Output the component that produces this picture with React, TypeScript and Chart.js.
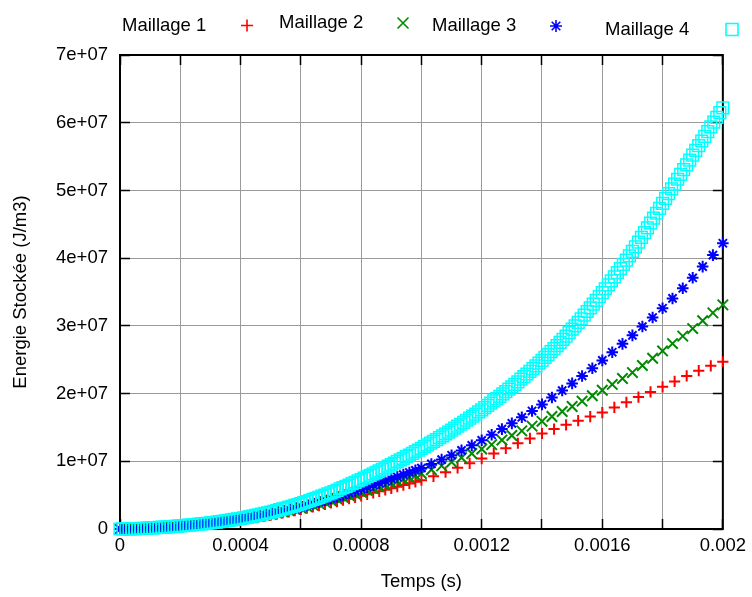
import React, { useEffect, useRef } from 'react';
import { Chart, registerables } from 'chart.js';

Chart.register(...registerables);

const FONT = "'Liberation Sans', Arial, Helvetica, sans-serif";

// ---- data (time in ms, energy in MJ/m3 = 1e6 J/m3) ----
const T_LOW_MS = [0, 0.02, 0.04, 0.06, 0.08, 0.1, 0.12, 0.14, 0.16, 0.18, 0.2, 0.22, 0.24, 0.26, 0.28, 0.3, 0.32, 0.34, 0.36, 0.38, 0.4, 0.42, 0.44, 0.46, 0.48, 0.5, 0.52, 0.54, 0.56, 0.58, 0.6, 0.62, 0.64, 0.66, 0.68, 0.7, 0.72, 0.74, 0.76, 0.78, 0.8, 0.82, 0.84, 0.86, 0.88, 0.9, 0.92, 0.94, 0.96, 0.98, 1.0];
const T_M1_HIGH_MS = [1.04, 1.08, 1.12, 1.16, 1.2, 1.24, 1.28, 1.32, 1.36, 1.4, 1.44, 1.48, 1.52, 1.56, 1.6, 1.64, 1.68, 1.72, 1.76, 1.8, 1.84, 1.88, 1.92, 1.96, 2.0];
const T_M23_HIGH_MS = [1.033, 1.067, 1.1, 1.133, 1.167, 1.2, 1.233, 1.267, 1.3, 1.333, 1.367, 1.4, 1.433, 1.467, 1.5, 1.533, 1.567, 1.6, 1.633, 1.667, 1.7, 1.733, 1.767, 1.8, 1.833, 1.867, 1.9, 1.933, 1.967, 2.0];
const T_M4_MS = [0, 0.01, 0.02, 0.03, 0.04, 0.05, 0.06, 0.07, 0.08, 0.09, 0.1, 0.11, 0.12, 0.13, 0.14, 0.15, 0.16, 0.17, 0.18, 0.19, 0.2, 0.21, 0.22, 0.23, 0.24, 0.25, 0.26, 0.27, 0.28, 0.29, 0.3, 0.31, 0.32, 0.33, 0.34, 0.35, 0.36, 0.37, 0.38, 0.39, 0.4, 0.41, 0.42, 0.43, 0.44, 0.45, 0.46, 0.47, 0.48, 0.49, 0.5, 0.51, 0.52, 0.53, 0.54, 0.55, 0.56, 0.57, 0.58, 0.59, 0.6, 0.61, 0.62, 0.63, 0.64, 0.65, 0.66, 0.67, 0.68, 0.69, 0.7, 0.71, 0.72, 0.73, 0.74, 0.75, 0.76, 0.77, 0.78, 0.79, 0.8, 0.81, 0.82, 0.83, 0.84, 0.85, 0.86, 0.87, 0.88, 0.89, 0.9, 0.91, 0.92, 0.93, 0.94, 0.95, 0.96, 0.97, 0.98, 0.99, 1.0,
  1.01, 1.02, 1.03, 1.04, 1.05, 1.06, 1.07, 1.08, 1.09, 1.1, 1.11, 1.12, 1.13, 1.14, 1.15, 1.16, 1.17, 1.18, 1.19, 1.2, 1.21, 1.22, 1.23, 1.24, 1.25, 1.26, 1.27, 1.28, 1.29, 1.3, 1.31, 1.32, 1.33, 1.34, 1.35, 1.36, 1.37, 1.38, 1.39, 1.4, 1.41, 1.42, 1.43, 1.44, 1.45, 1.46, 1.47, 1.48, 1.49, 1.5, 1.51, 1.52, 1.53, 1.54, 1.55, 1.56, 1.57, 1.58, 1.59, 1.6, 1.61, 1.62, 1.63, 1.64, 1.65, 1.66, 1.67, 1.68, 1.69, 1.7, 1.71, 1.72, 1.73, 1.74, 1.75, 1.76, 1.77, 1.78, 1.79, 1.8, 1.81, 1.82, 1.83, 1.84, 1.85, 1.86, 1.87, 1.88, 1.89, 1.9, 1.91, 1.92, 1.93, 1.94, 1.95, 1.96, 1.97, 1.98, 1.99, 2.0];

const E_M1 = [0, 0.01, 0.03, 0.05, 0.08, 0.12, 0.17, 0.23, 0.3, 0.37, 0.45, 0.52, 0.6, 0.68, 0.76, 0.85, 0.95, 1.05, 1.16, 1.28, 1.4, 1.52, 1.65, 1.78, 1.91, 2.05, 2.21, 2.37, 2.54, 2.72, 2.9, 3.08, 3.27, 3.46, 3.65, 3.85, 4.05, 4.26, 4.47, 4.68, 4.9, 5.12, 5.34, 5.56, 5.78, 6.0, 6.24, 6.48, 6.72, 6.96, 7.2,
  7.78, 8.39, 9.03, 9.7, 10.4, 11.15, 11.92, 12.66, 13.38, 14.1, 14.75, 15.39, 16.0, 16.6, 17.2, 17.96, 18.72, 19.48, 20.24, 21.0, 21.8, 22.6, 23.38, 24.1, 24.7];
const E_M2 = [0, 0.01, 0.03, 0.05, 0.08, 0.12, 0.17, 0.23, 0.3, 0.37, 0.45, 0.53, 0.61, 0.7, 0.79, 0.88, 0.99, 1.1, 1.21, 1.33, 1.45, 1.59, 1.73, 1.88, 2.04, 2.2, 2.37, 2.54, 2.72, 2.91, 3.1, 3.31, 3.52, 3.74, 3.97, 4.2, 4.44, 4.68, 4.93, 5.19, 5.45, 5.71, 5.98, 6.25, 6.52, 6.8, 7.08, 7.36, 7.64, 7.92, 8.2,
  8.75, 9.32, 9.9, 10.52, 11.15, 11.8, 12.46, 13.13, 13.8, 14.49, 15.19, 15.9, 16.62, 17.35, 18.1, 18.88, 19.68, 20.5, 21.35, 22.22, 23.1, 24.15, 25.22, 26.3, 27.38, 28.48, 29.6, 30.75, 31.92, 33.1];
const E_M3 = [0, 0.01, 0.03, 0.05, 0.08, 0.12, 0.17, 0.23, 0.3, 0.37, 0.45, 0.53, 0.62, 0.71, 0.8, 0.9, 1.01, 1.13, 1.25, 1.37, 1.5, 1.65, 1.8, 1.96, 2.13, 2.3, 2.49, 2.68, 2.88, 3.09, 3.3, 3.53, 3.76, 4.0, 4.25, 4.5, 4.77, 5.04, 5.32, 5.61, 5.9, 6.19, 6.49, 6.79, 7.09, 7.4, 7.71, 8.03, 8.35, 8.67, 9.0,
  9.61, 10.25, 10.9, 11.61, 12.35, 13.1, 13.92, 14.75, 15.6, 16.5, 17.43, 18.4, 19.41, 20.45, 21.5, 22.6, 23.74, 24.9, 26.1, 27.34, 28.6, 29.9, 31.24, 32.6, 34.05, 35.55, 37.1, 38.75, 40.45, 42.2];
const E_M4 = [0, 0.005, 0.01, 0.02, 0.03, 0.045, 0.06, 0.08, 0.1, 0.125, 0.15, 0.175, 0.2, 0.23, 0.26, 0.285, 0.31, 0.345, 0.38, 0.415, 0.45, 0.49, 0.53, 0.575, 0.62, 0.665, 0.71, 0.755, 0.8, 0.85, 0.9, 0.96, 1.02, 1.08, 1.14, 1.205, 1.27, 1.34, 1.41, 1.48, 1.55, 1.64, 1.73, 1.82, 1.91, 2.0, 2.1, 2.2, 2.3, 2.4, 2.5, 2.615, 2.73, 2.85, 2.97, 3.095, 3.22, 3.35, 3.48, 3.615, 3.75, 3.9, 4.05, 4.205, 4.36, 4.52, 4.68, 4.845, 5.01, 5.18, 5.35, 5.535, 5.72, 5.91, 6.1, 6.295, 6.49, 6.69, 6.89, 7.095, 7.3, 7.51, 7.72, 7.935, 8.15, 8.37, 8.59, 8.815, 9.04, 9.27, 9.5, 9.735, 9.97, 10.205, 10.44, 10.68, 10.92, 11.165, 11.41, 11.655, 11.9,
  12.16, 12.42, 12.68, 12.94, 13.21, 13.48, 13.75, 14.03, 14.31, 14.6,
  14.89, 15.18, 15.47, 15.76, 16.06, 16.36, 16.66, 16.96, 17.28, 17.6,
  17.92, 18.25, 18.58, 18.91, 19.25, 19.59, 19.94, 20.29, 20.64, 21.0,
  21.37, 21.74, 22.12, 22.5, 22.89, 23.28, 23.68, 24.08, 24.49, 24.9,
  25.33, 25.76, 26.2, 26.64, 27.09, 27.55, 28.02, 28.5, 29.0, 29.5,
  30.01, 30.53, 31.05, 31.58, 32.12, 32.66, 33.21, 33.76, 34.33, 34.9,
  35.48, 36.06, 36.65, 37.25, 37.85, 38.46, 39.08, 39.71, 40.35, 41.0,
  41.68, 42.37, 43.07, 43.77, 44.48, 45.19, 45.91, 46.63, 47.36, 48.1,
  48.81, 49.52, 50.23, 50.94, 51.65, 52.36, 53.07, 53.78, 54.49, 55.2,
  55.9, 56.6, 57.3, 58.0, 58.7, 59.4, 60.1, 60.8, 61.5, 62.2];

const SERIES_LABELS = ['Maillage 1', 'Maillage 2', 'Maillage 3', 'Maillage 4'];
const X_LABEL = 'Temps (s)';
const Y_LABEL = 'Energie Stockée (J/m3)';
const X_MIN = 0;
const X_MAX = 0.002;
const X_STEP = 0.0002;
const Y_MIN = 0;
const Y_MAX = 7e7;
const Y_STEP = 1e7;

const T_M1 = [...T_LOW_MS, ...T_M1_HIGH_MS];
const T_M2 = [...T_LOW_MS, ...T_M23_HIGH_MS];
const T_M3 = [...T_LOW_MS, ...T_M23_HIGH_MS];

function toPoints(tMs: number[], eMJ: number[]) {
  return tMs.map((t, i) => ({ x: t * 1e-3, y: eMJ[i] * 1e6 }));
}

const COLORS = ['#ff0000', '#008a00', '#0000ff', '#00ffff'];
const STYLES = ['plus', 'cross', 'star', 'square'];

// legend layout (gnuplot-like: text followed by marker)
const LEGEND_POS = [
  { textX: 122, markX: 247, cy: 25.5 },
  { textX: 279, markX: 403, cy: 23 },
  { textX: 432, markX: 556, cy: 26 },
  { textX: 605, markX: 732, cy: 29.5 },
];

function drawMarker(ctx: CanvasRenderingContext2D, style: string, x: number, y: number, color: string) {
  ctx.save();
  ctx.strokeStyle = color;
  ctx.lineWidth = 1.6;
  ctx.beginPath();
  const r = 6;
  if (style === 'plus' || style === 'star') {
    ctx.moveTo(x - r, y); ctx.lineTo(x + r, y);
    ctx.moveTo(x, y - r); ctx.lineTo(x, y + r);
  }
  if (style === 'cross' || style === 'star') {
    const d = style === 'star' ? 4.3 : 5.5;
    ctx.moveTo(x - d, y - d); ctx.lineTo(x + d, y + d);
    ctx.moveTo(x - d, y + d); ctx.lineTo(x + d, y - d);
  }
  if (style === 'square') {
    ctx.rect(x - 6, y - 6, 12, 12);
  }
  ctx.stroke();
  ctx.restore();
}

const legendPlugin = {
  id: 'gnuLegend',
  afterDraw(chart: any) {
    const ctx = chart.ctx as CanvasRenderingContext2D;
    ctx.save();
    ctx.font = `18.5px ${FONT}`;
    ctx.fillStyle = '#000';
    ctx.textAlign = 'left';
    ctx.textBaseline = 'middle';
    SERIES_LABELS.forEach((lab, i) => {
      const p = LEGEND_POS[i];
      ctx.fillText(lab, p.textX, p.cy);
      drawMarker(ctx, STYLES[i], p.markX, p.cy, COLORS[i]);
    });
    ctx.restore();
  },
};

const framePlugin = {
  id: 'gnuFrame',
  beforeDatasetsDraw(chart: any) {
    const ctx = chart.ctx as CanvasRenderingContext2D;
    const { left, right, top, bottom } = chart.chartArea;
    const xs = chart.scales.x;
    const ys = chart.scales.y;
    const L = 10;
    ctx.save();
    ctx.strokeStyle = '#000';
    ctx.lineWidth = 1.5;
    ctx.beginPath();
    xs.ticks.forEach((t: any) => {
      const px = Math.round(xs.getPixelForValue(t.value) - 0.5) + 0.5;
      ctx.moveTo(px, bottom); ctx.lineTo(px, bottom - L);
      ctx.moveTo(px, top); ctx.lineTo(px, top + L);
    });
    ys.ticks.forEach((t: any) => {
      const py = Math.round(ys.getPixelForValue(t.value) - 0.5) + 0.5;
      ctx.moveTo(left, py); ctx.lineTo(left + L, py);
      ctx.moveTo(right, py); ctx.lineTo(right - L, py);
    });
    ctx.stroke();
    ctx.lineWidth = 2;
    ctx.strokeRect(left, top, right - left, bottom - top);
    ctx.restore();
  },
};

export default function App() {
  const ref = useRef<HTMLCanvasElement | null>(null);
  useEffect(() => {
    if (!ref.current) return;
    const mk = (i: number, t: number[], e: number[], style: string, radius: number, width: number, order: number) => ({
      label: SERIES_LABELS[i],
      data: toPoints(t, e),
      showLine: false,
      pointStyle: style,
      pointRadius: radius,
      pointHoverRadius: radius,
      pointBorderColor: COLORS[i],
      pointBackgroundColor: 'rgba(0,0,0,0)',
      pointBorderWidth: width,
      borderColor: COLORS[i],
      backgroundColor: 'rgba(0,0,0,0)',
      clip: false,
      order,
    });
    const chart = new Chart(ref.current, {
      type: 'scatter',
      data: {
        datasets: [
          mk(0, T_M1, E_M1, 'cross', 5.6, 2, 3),
          mk(1, T_M2, E_M2, 'crossRot', 7.4, 2, 2),
          mk(2, T_M3, E_M3, 'star', 5.8, 2, 1),
          mk(3, T_M4_MS, E_M4, 'rect', 8.3, 1.5, 0),
        ] as any,
      },
      options: {
        animation: false,
        responsive: false,
        events: [],
        layout: { padding: { top: 55, right: 25, left: 0, bottom: 0 } },
        plugins: { legend: { display: false }, tooltip: { enabled: false } },
        scales: {
          x: {
            type: 'linear',
            min: X_MIN,
            max: X_MAX,
            afterFit: (s: any) => { s.height = 68; },
            grid: { color: '#9a9a9a', lineWidth: 1, drawTicks: false },
            border: { display: false },
            ticks: {
              stepSize: X_STEP,
              autoSkip: false,
              maxRotation: 0,
              padding: 6,
              color: '#000',
              font: { family: FONT, size: 18.5 },
              callback: (v: any, i: number) => (i % 2 === 0 ? String(parseFloat(Number(v).toPrecision(6))) : ''),
            },
            title: { display: true, text: X_LABEL, color: '#000', font: { family: FONT, size: 18.5 }, padding: { top: 0, bottom: 4 } },
          },
          y: {
            type: 'linear',
            min: Y_MIN,
            max: Y_MAX,
            afterFit: (s: any) => { s.width = 120; },
            grid: { color: '#9a9a9a', lineWidth: 1, drawTicks: false },
            border: { display: false },
            ticks: {
              stepSize: Y_STEP,
              padding: 12,
              color: '#000',
              font: { family: FONT, size: 18.5 },
              callback: (v: any) => (Number(v) === 0 ? '0' : `${Math.round(Number(v) / 1e7)}e+07`),
            },
            title: { display: true, text: Y_LABEL, color: '#000', font: { family: FONT, size: 18.5 }, padding: { top: 10, bottom: 0 } },
          },
        },
      } as any,
      plugins: [framePlugin, legendPlugin],
    });
    return () => chart.destroy();
  }, []);
  return (
    <div style={{ position: 'absolute', left: 0, top: 0, width: 752, height: 597, background: '#fff' }}>
      <canvas ref={ref} width={752} height={597} style={{ display: 'block' }} />
    </div>
  );
}
